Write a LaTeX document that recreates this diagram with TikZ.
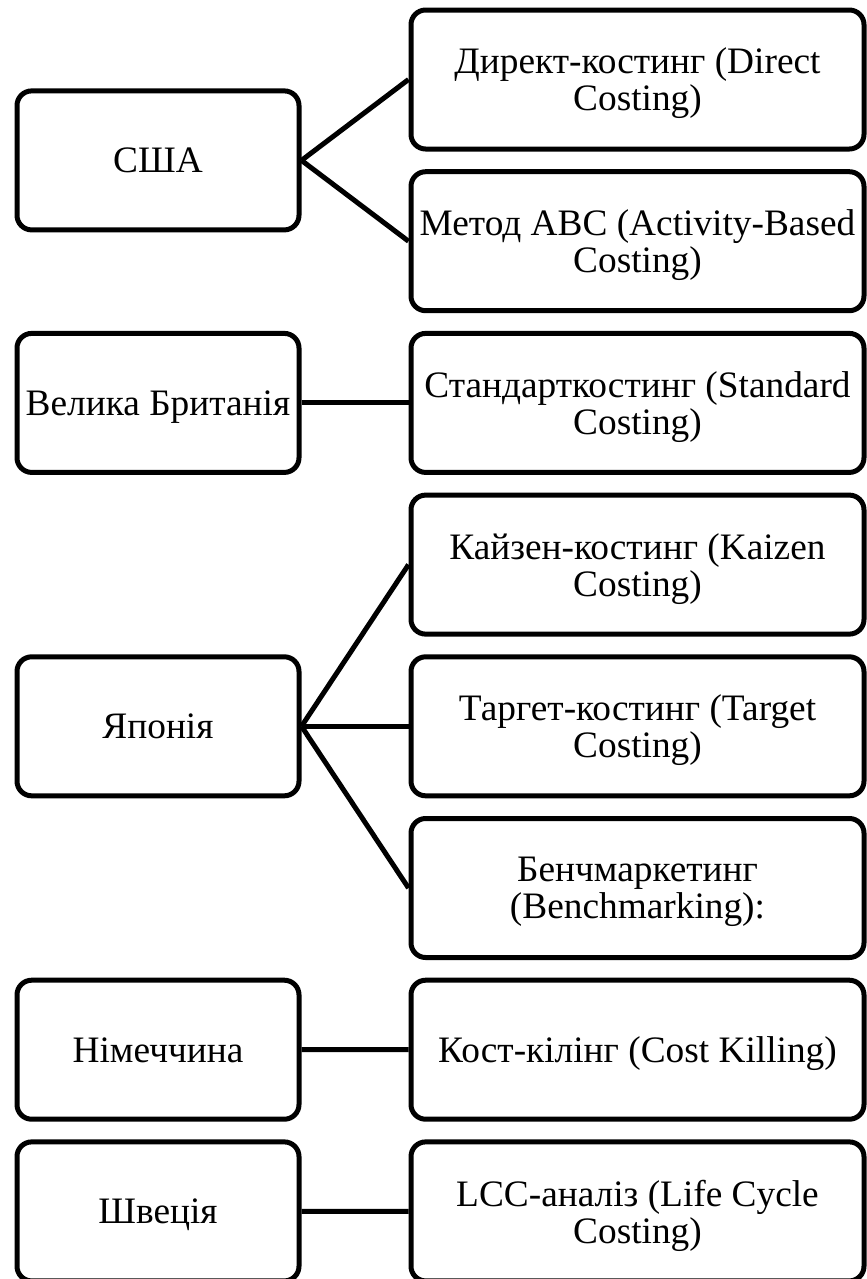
\documentclass[tikz,border=0pt]{standalone}
\usepackage{fontspec}
\setmainfont{Liberation Serif}
\usepackage{tikz}

\begin{document}
\begin{tikzpicture}
      [
        x=0.75pt, y=-0.75pt,
        box/.style={draw, line width=3.75pt, rounded corners=11pt, inner sep=0pt,
          align=center, text depth=0pt, font=\fontsize{28}{27.75}\selectfont},
        country/.style={box, minimum width=211.5pt, minimum height=104.25pt},
        method/.style={box, minimum width=339.75pt, minimum height=104.25pt},
        link/.style={line width=3.75pt}
      ]
      \useasboundingbox (0,0) rectangle (867,1279);
      % methods (right column)
      \foreach \i/\txt in {1/{Директ-костинг (Direct\\Costing)},
                           2/{Метод ABC (Activity-Based\\Costing)},
                           3/{Стандарткостинг (Standard\\Costing)},
                           4/{Кайзен-костинг (Kaizen\\Costing)},
                           5/{Таргет-костинг (Target\\Costing)},
                           6/{Бенчмаркетинг\\(Benchmarking):},
                           7/{Кост-кілінг (Cost Killing)},
                           8/{LCC-аналіз (Life Cycle\\Costing)}} {
          \node [method] (m\i) at (637.5,{79.5+161.7*(\i-1)}) {\txt};
      }
      % countries (left column)
      \node [country] (usa) at (158,160.4) {США};
      \node [country] (uk) at (158,402.9) {Велика Британія};
      \node [country] (jp) at (158,726.3) {Японія};
      \node [country] (de) at (158,1049.7) {Німеччина};
      \node [country] (se) at (158,1211.4) {Швеція};
      % links
      \foreach \a/\b in {usa/m1,usa/m2,uk/m3,jp/m4,jp/m5,jp/m6,de/m7,se/m8} {
          \draw [link] (\a.east) -- (\b.west);
      }
\end{tikzpicture}
\end{document}
